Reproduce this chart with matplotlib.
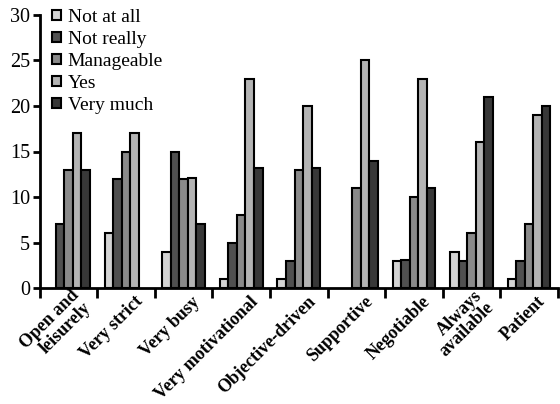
import matplotlib
matplotlib.use("Agg")
import matplotlib.pyplot as plt
import matplotlib.transforms as mtransforms
import numpy as np

categories = ['Open and\nleisurely', 'Very strict', 'Very busy', 'Very motivational',
              'Objective-driven', 'Supportive', 'Negotiable', 'Always\navailable', 'Patient']
series = ['Not at all', 'Not really', 'Manageable', 'Yes', 'Very much']
not_at_all = [0, 6, 4, 1, 1, 0, 3, 4, 1]
not_really = [7, 12, 15, 5, 3, 0, 3.1, 3, 3]
manageable = [13, 15, 12, 8, 13, 11, 10, 6, 7]
yes = [17, 17, 12.1, 23, 20, 25, 23, 16, 19]
very_much = [13, 0, 7, 13.2, 13.2, 14, 11, 21, 20]
colors = ['#d4d4d4', '#505050', '#8a8a8a', '#b4b4b4', '#383838']

plt.rcParams['font.family'] = ['Liberation Serif', 'DejaVu Serif']

fig = plt.figure(figsize=(5.6, 4.04), dpi=100)
ax = fig.add_axes([0.071, 0.287, 0.925, 0.676])

x = np.arange(len(categories))
w = 0.148
data = [not_at_all, not_really, manageable, yes, very_much]
for i, (vals, c, name) in enumerate(zip(data, colors, series)):
    v = np.array(vals, dtype=float)
    h = np.where(v > 0, v, np.nan)
    ax.bar(x + (i - 2) * w, h, w, color=c, edgecolor='black', linewidth=1.5, label=name)

ax.set_xlim(-0.5, len(categories) - 0.5)
ax.set_ylim(0, 30)
ax.set_yticks([0, 5, 10, 15, 20, 25, 30])
ax.tick_params(axis='y', labelsize=14.5, width=2, length=5, pad=2)
ax.set_xticks(np.arange(len(categories) + 1) - 0.5)
ax.set_xticklabels([])
ax.set_xticks(x, minor=True)
ax.set_xticklabels(categories, minor=True, rotation=45, ha='right', va='center',
                   rotation_mode='anchor', fontsize=13, fontweight='bold', linespacing=1.05)
ax.tick_params(axis='x', which='major', width=2, length=7)
ax.tick_params(axis='x', which='minor', length=0, pad=8)
offset = mtransforms.ScaledTranslation(10 / 72, 0, fig.dpi_scale_trans)
for lab in ax.get_xticklabels(minor=True):
    lab.set_transform(lab.get_transform() + offset)
for s in ['top', 'right']:
    ax.spines[s].set_visible(False)
for s in ['left', 'bottom']:
    ax.spines[s].set_linewidth(2)

ax.legend(loc='upper left', bbox_to_anchor=(12 / 518, 1.022), frameon=False,
          borderpad=0, borderaxespad=0, handlelength=0.45, handleheight=0.45,
          handletextpad=0.36, labelspacing=0.26, prop={'size': 14})

plt.savefig('out.png', dpi=100)
